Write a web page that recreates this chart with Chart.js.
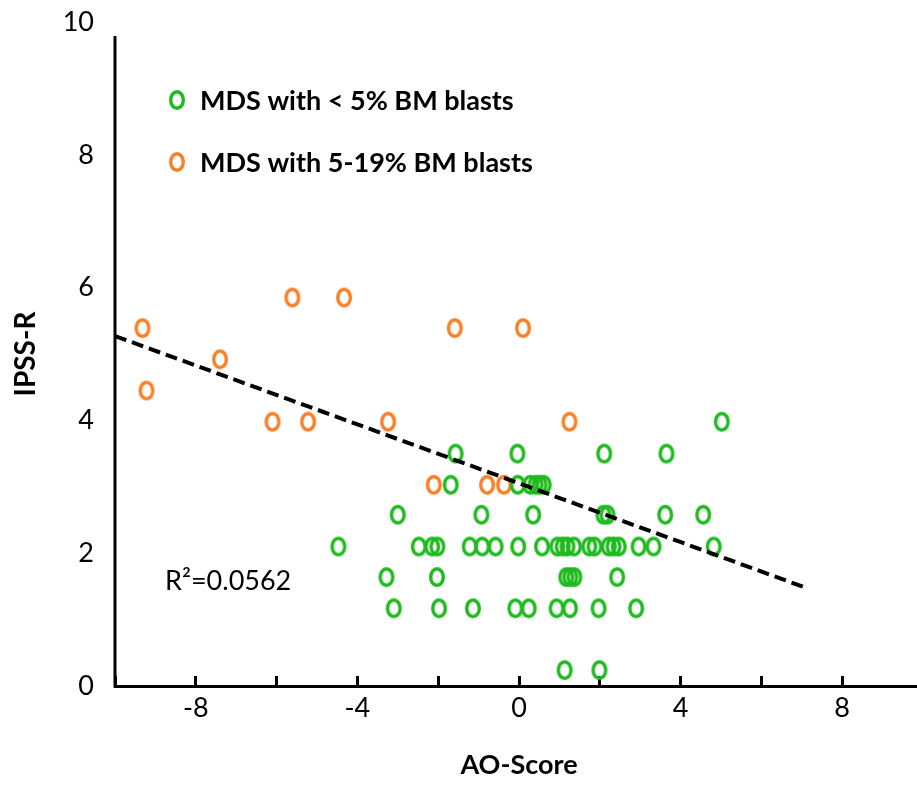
<!DOCTYPE html>
<html>
<head>
<meta charset="utf-8">
<script src="https://cdn.jsdelivr.net/npm/chart.js@4.4.1/dist/chart.umd.min.js"></script>
<style>
  html, body { margin: 0; padding: 0; background: #fff; overflow: hidden; }
  #wrap { position: relative; width: 940px; height: 787px; }
</style>
</head>
<body>
<div id="wrap"><canvas id="scatter" width="940" height="787"></canvas></div>
<script>
// MDS with < 5% BM blasts
const lowBlastX = [5.02,
  -1.57, -0.04, 2.11, 3.65,
  -1.69, -0.03, 0.28, 0.41, 0.51, 0.61,
  -3.00, -0.93, 0.35, 2.09, 2.19, 3.62, 4.56,
  -4.47, -2.48, -2.15, -2.02, -1.22, -0.91, -0.58, -0.02, 0.57, 0.95, 1.08, 1.20, 1.36, 1.74, 1.87, 2.22, 2.34, 2.47, 2.96, 3.33, 4.82,
  -3.28, -2.03, 1.17, 1.27, 1.37, 2.43,
  -3.10, -1.98, -1.14, -0.09, 0.24, 0.93, 1.26, 1.97, 2.90,
  1.13, 1.99];
const lowBlastY = [3.98,
  3.50, 3.50, 3.50, 3.50,
  3.03, 3.03, 3.03, 3.03, 3.03, 3.03,
  2.58, 2.58, 2.58, 2.58, 2.58, 2.58, 2.58,
  2.10, 2.10, 2.10, 2.10, 2.10, 2.10, 2.10, 2.10, 2.10, 2.10, 2.10, 2.10, 2.10, 2.10, 2.10, 2.10, 2.10, 2.10, 2.10, 2.10, 2.10,
  1.64, 1.64, 1.64, 1.64, 1.64, 1.64,
  1.17, 1.17, 1.17, 1.17, 1.17, 1.17, 1.17, 1.17, 1.17,
  0.24, 0.24];

// MDS with 5-19% BM blasts
const highBlastX = [-9.32, -9.22, -7.40, -6.10, -5.61, -5.22, -4.33, -3.24, -2.11, -1.59, -0.79, -0.37, 0.10, 1.25];
const highBlastY = [5.39, 4.45, 4.92, 3.98, 5.85, 3.98, 5.85, 3.98, 3.03, 5.39, 3.03, 3.03, 5.39, 3.98];

// regression line end points
const trendX = [-10, 7.1];
const trendY = [5.27, 1.48];

const xLabelTicks = [-8, -4, 0, 4, 8];
const seriesNames = ['MDS with < 5% BM blasts', 'MDS with 5-19% BM blasts'];
const seriesColors = ['#1fba1f', '#fa7f26'];
const rSquared = 'R\u00b2=0.0562';
const yAxisTop = 9.79;

function ringImage(color) {
  const c = document.createElement('canvas');
  c.width = 18; c.height = 22;
  const g = c.getContext('2d');
  g.strokeStyle = color;
  g.lineWidth = 3.4;
  g.beginPath();
  g.ellipse(9, 11, 6.3, 8.3, 0, 0, Math.PI * 2);
  g.stroke();
  return c;
}

const rings = seriesColors.map(ringImage);

const toPoints = (xs, ys) => xs.map((x, i) => ({ x: x, y: ys[i] }));

// y axis line, legend and R2 label drawn inside the plot
const notesPlugin = {
  id: 'notes',
  beforeDatasetsDraw(chart) {
    const ctx = chart.ctx;
    const y = chart.scales.y;
    const left = chart.chartArea.left;
    ctx.save();
    ctx.strokeStyle = '#000';
    ctx.lineWidth = 3;
    ctx.beginPath();
    ctx.moveTo(left, y.getPixelForValue(yAxisTop));
    ctx.lineTo(left, y.getPixelForValue(0) + 1.5);
    ctx.stroke();
    ctx.restore();
  },
  afterDraw(chart) {
    const ctx = chart.ctx;
    const area = chart.chartArea;
    ctx.save();
    ctx.font = 'bold 27px Lato';
    ctx.fillStyle = '#000';
    ctx.textBaseline = 'middle';
    seriesNames.forEach((name, i) => {
      const cy = 100 + i * 62;
      ctx.drawImage(rings[i], area.left + 62 - 9, cy - 11);
      ctx.fillText(name, area.left + 85, cy + 1);
    });
    ctx.font = '27px Lato';
    ctx.fillText(rSquared, area.left + 50, chart.scales.y.getPixelForValue(1.58));
    ctx.restore();
  }
};

new Chart(document.getElementById('scatter'), {
  type: 'scatter',
  data: {
    datasets: [
      {
        label: 'Trend',
        data: toPoints(trendX, trendY),
        showLine: true,
        borderColor: '#000',
        borderWidth: 4,
        borderDash: [12, 6],
        pointRadius: 0,
        fill: false
      },
      {
        label: seriesNames[0],
        data: toPoints(lowBlastX, lowBlastY),
        pointStyle: rings[0],
        pointRadius: 9
      },
      {
        label: seriesNames[1],
        data: toPoints(highBlastX, highBlastY),
        pointStyle: rings[1],
        pointRadius: 9
      }
    ]
  },
  options: {
    responsive: false,
    animation: false,
    events: [],
    layout: { padding: { left: 0, top: 22, right: 17, bottom: 0 } },
    plugins: {
      legend: { display: false },
      tooltip: { enabled: false }
    },
    scales: {
      x: {
        type: 'linear',
        min: -10,
        max: 10,
        afterFit: s => { s.height = 101; },
        afterBuildTicks: s => {
          s.ticks = [-10, -8, -6, -4, -2, 0, 2, 4, 6, 8, 10].map(v => ({ value: v }));
        },
        ticks: {
          autoSkip: false,
          maxRotation: 0,
          color: '#000',
          font: { family: 'Lato', size: 27 },
          padding: 16,
          callback: v => xLabelTicks.includes(v) ? String(v) : ''
        },
        grid: {
          display: true,
          drawOnChartArea: false,
          drawTicks: true,
          tickLength: -10,
          lineWidth: 3,
          color: '#000'
        },
        border: { display: true, color: '#000', width: 3 },
        title: {
          display: true,
          text: 'AO-Score',
          color: '#000',
          font: { family: 'Lato', size: 27, weight: 'bold' },
          padding: { top: 0, bottom: 6 }
        }
      },
      y: {
        type: 'linear',
        min: 0,
        max: 10,
        afterFit: s => { s.width = 115; s.paddingTop = 0; s.paddingBottom = 0; },
        ticks: {
          stepSize: 2,
          color: '#000',
          font: { family: 'Lato', size: 27 },
          padding: 21
        },
        grid: { display: false, drawTicks: false },
        border: { display: false },
        title: {
          display: true,
          text: 'IPSS-R',
          color: '#000',
          font: { family: 'Lato', size: 28, weight: 'bold' },
          padding: { top: 9, bottom: 0 }
        }
      }
    }
  },
  plugins: [notesPlugin]
});
</script>
</body>
</html>
